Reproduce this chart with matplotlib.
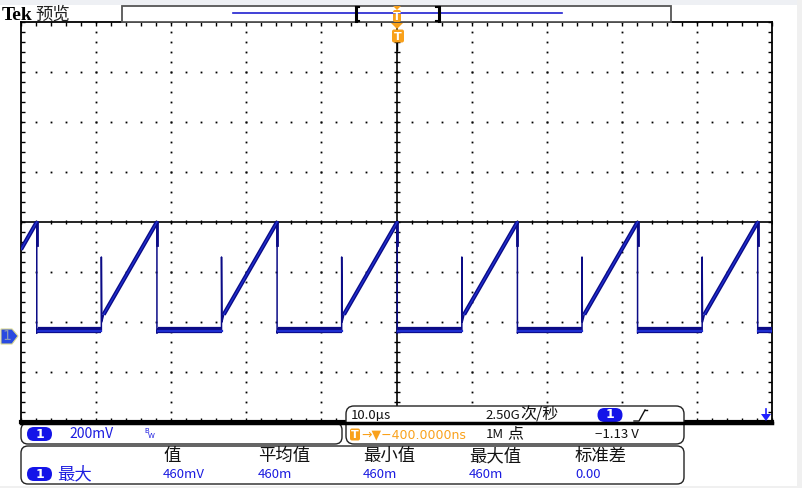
import numpy as np
import matplotlib
matplotlib.use("Agg")
import matplotlib.pyplot as plt
from matplotlib.patches import FancyBboxPatch, Rectangle, Polygon

plt.rcParams['font.family'] = ['Noto Sans CJK SC', 'DejaVu Sans']

# scope settings
t_range = (-50.0, 50.0)        # µs, 10.0µs/div
v_center = 0.46                 # V at screen centre, 200mV/div
v_per_div = 0.2

# waveform key points
fall_t = [-47.9, -31.9, -15.9, 0.1, 16.1, 32.1, 48.1]
rise_t = [-39.3, -23.3, -7.3, 8.7, 24.7, 40.7]
v_start = 0.35
v_peak = 0.46
v_low = 0.015
v_base = 0.03
v_spike = 0.32
v_ramp0 = 0.09
v_glitch = 0.37

# measurement panel
meas_headers = ['值', '平均值', '最小值', '最大值', '标准差']
meas_values = ['460mV', '460m', '460m', '460m', '0.00']
meas_x = [163, 258, 363, 469, 575]

BLUE_TXT = '#1c1ce0'
NAVY = '#0b0b86'
TRACE = '#1f2fd0'
ORANGE = '#f9a11b'

W, H = 802, 488
fig = plt.figure(figsize=(W / 100, H / 100), dpi=100)
fig.patch.set_facecolor('white')

# ---- graticule axes ----
gx0, gx1, gy0, gy1 = 21, 772, 22, 422
ax = fig.add_axes([gx0 / W, (H - gy1) / H, (gx1 - gx0) / W, (gy1 - gy0) / H])
ax.set_xlim(*t_range)
vlo = v_center - 4 * v_per_div
vhi = v_center + 4 * v_per_div
ax.set_ylim(vlo, vhi)
ax.set_facecolor('white')

xminor = np.arange(-50, 50.01, 2)
yminor = np.arange(vlo, vhi + 1e-6, v_per_div / 5)
ax.set_xticks(xminor)
ax.set_yticks(yminor)
ax.tick_params(direction='in', length=3, width=1, top=True, right=True,
               labelbottom=False, labelleft=False, color='black')
for s in ['top', 'left', 'right']:
    ax.spines[s].set_linewidth(1.3)
ax.spines['bottom'].set_linewidth(3)

# dotted grid
for xv in np.arange(-40, 41, 10):
    if xv == 0:
        continue
    ax.plot(np.full_like(yminor, xv), yminor, 's', ms=1.3, mew=0, color='black')
for k in range(-3, 4):
    if k == 0:
        continue
    yv = v_center + k * v_per_div
    ax.plot(xminor, np.full_like(xminor, yv), 's', ms=1.3, mew=0, color='black')

# centre cross with ticks
ax.axhline(v_center, color='black', lw=1.2)
ax.axvline(0, color='black', lw=1.2)
ax.plot(xminor, np.full_like(xminor, v_center), '|', ms=3.5, mew=1, color='black')
ax.plot(np.zeros_like(yminor), yminor, '_', ms=4.5, mew=1, color='black')

# ---- trace ----
ramps = [((-50.0, v_start), (fall_t[0], v_peak))]
for r, f in zip(rise_t, fall_t[1:]):
    ramps.append(((r + 0.3, v_ramp0), (f, v_peak)))
bases = []
for i, f in enumerate(fall_t):
    end = rise_t[i] if i < len(rise_t) else 50.0
    bases.append(((f + 0.1, v_base), (end, v_base)))

for (a, b) in ramps:
    ax.plot([a[0], b[0]], [a[1], b[1]], color=NAVY, lw=3.0, solid_capstyle='butt', zorder=5)
    ax.plot([a[0], b[0]], [a[1], b[1]], color=TRACE, lw=1.0, zorder=6)
for (a, b) in bases:
    ax.plot([a[0], b[0]], [a[1], b[1]], color=NAVY, lw=4.5, solid_capstyle='butt', zorder=5)
    ax.plot([a[0], b[0]], [a[1] - 0.004, b[1] - 0.004], color=TRACE, lw=1.6, zorder=6)
for f in fall_t:
    ax.plot([f, f, f + 0.1], [v_peak, v_low, v_base], color=NAVY, lw=1.1, zorder=5)
    ax.plot([f, f], [v_peak, v_glitch], color=NAVY, lw=2.0, zorder=5)
for r in rise_t:
    ax.plot([r, r, r + 0.05, r + 0.3], [v_base, v_spike, v_ramp0 - 0.03, v_ramp0],
            color=NAVY, lw=1.1, zorder=5)

# ---- overlay for screen furniture ----
ov = fig.add_axes([0, 0, 1, 1], zorder=10)
ov.set_xlim(0, W)
ov.set_ylim(H, 0)
ov.axis('off')
ov.patch.set_alpha(0)

# grey margins
ov.add_patch(Rectangle((0, 0), W, 5, color='#eef0f4', lw=0))
ov.add_patch(Rectangle((797, 0), 5, H, color='#f0f0f0', lw=0))
ov.add_patch(Rectangle((0, 486), W, 2, color='#f0f0f0', lw=0))


def box(x0, y0, x1, y1, r=7, lw=1.0, ec='#222222', fc='white'):
    ov.add_patch(FancyBboxPatch((x0, y0), x1 - x0, y1 - y0,
                                boxstyle=f'round,pad=0,rounding_size={r}',
                                lw=lw, ec=ec, fc=fc))


def pill(cx, cy, w=25, h=14):
    ov.add_patch(FancyBboxPatch((cx - w / 2, cy - h / 2), w, h,
                                boxstyle=f'round,pad=0,rounding_size={h / 2}',
                                lw=0, fc='#1414e8'))
    ov.text(cx, cy, '1', color='white', fontsize=9, fontweight='bold',
            ha='center', va='center', family='DejaVu Sans')


def tbox(cx, cy, w=11, h=13):
    ov.add_patch(FancyBboxPatch((cx - w / 2, cy - h / 2), w, h,
                                boxstyle='round,pad=0,rounding_size=2',
                                lw=0, fc=ORANGE))
    ov.text(cx, cy + 0.5, 'T', color='white', fontsize=8, fontweight='bold',
            ha='center', va='center', family='DejaVu Sans')


# title
ov.text(2, 15, 'Tek', fontsize=14, fontweight='bold', family='Liberation Serif',
        va='center', ha='left')
ov.text(35, 15, '预览', fontsize=12.5, va='center', ha='left', color='#222222')

# record bar
ov.add_patch(Rectangle((122, 6), 549, 16, fc='white', ec='#555555', lw=1.3))
ov.plot([233, 562], [13, 13], color='#2020d0', lw=1.2)
for bx in (356, 439):
    ov.plot([bx, bx], [7, 21], color='black', lw=2.2)
ov.plot([356, 359], [7, 7], color='black', lw=1.5)
ov.plot([356, 359], [21, 21], color='black', lw=1.5)
ov.plot([436, 439], [7, 7], color='black', lw=1.5)
ov.plot([436, 439], [21, 21], color='black', lw=1.5)
ov.add_patch(Polygon([[393, 6], [401, 6], [397, 10]], closed=True, fc=ORANGE, lw=0))
tbox(397, 16, w=8, h=12)
ov.add_patch(Polygon([[391, 23], [403, 23], [397, 29]], closed=True, fc=ORANGE, lw=0))
tbox(398, 36, w=12, h=13)
ov.plot([397, 397], [43, 50], color='black', lw=1)

# channel 1 ground marker
ov.add_patch(Polygon([[1, 329], [12, 329], [18, 336], [12, 344], [1, 344]], closed=True,
                     fc='#2a4ae0', ec='#d8d890', lw=0.8))
ov.text(7, 336.5, '1', color='#8a9ab8', fontsize=10, ha='center', va='center',
        family='DejaVu Sans')

# trigger level arrow (off screen)
ov.add_patch(Polygon([[761, 414], [771, 414], [766, 421]], closed=True, fc='#2020ff', lw=0))
ov.plot([766, 766], [409, 415], color='#2020ff', lw=1.2)

# vertical scale box
box(21, 423, 342, 444, r=7)
ov.plot([21, 772], [422.5, 422.5], color='black', lw=2.5)
pill(39.5, 434)
ov.text(69, 434.5, '200mV', color=BLUE_TXT, fontsize=10, va='center', ha='left')
ov.text(144, 431, 'B', color=BLUE_TXT, fontsize=5, va='center', ha='left', family='DejaVu Sans')
ov.text(147.5, 436, 'W', color=BLUE_TXT, fontsize=5, va='center', ha='left', family='DejaVu Sans')

# timebase / trigger box
box(346, 406, 684, 444, r=8)
ov.text(351, 415.5, '10.0µs', fontsize=9.5, va='center', ha='left', color='#111111')
ov.text(485, 415.5, '2.50G', fontsize=9.5, va='center', ha='left', color='#111111')
ov.text(520, 415, '次/秒', fontsize=11.5, va='center', ha='left', color='#111111')
pill(610, 415)
ov.plot([634, 639, 645], [421, 421, 410], color='#111111', lw=1)
ov.plot([645, 647], [410, 410], color='#111111', lw=1)
tbox(355, 434.5, w=10, h=12)
ov.text(361, 434.5, '→▼−400.0000ns', color=ORANGE, fontsize=9, va='center', ha='left',
        family=['DejaVu Sans'])
ov.text(486, 434.5, '1M', fontsize=9.5, va='center', ha='left', color='#111111')
ov.text(507, 434, '点', fontsize=11.5, va='center', ha='left', color='#111111')
ov.text(595, 434.5, '−1.13 V', fontsize=9.5, va='center', ha='left', color='#111111')

# measurement box
box(21, 446, 684, 484, r=7)
pill(39.5, 474)
ov.text(57, 474, '最大', color=BLUE_TXT, fontsize=12.5, va='center', ha='left')
for x, hd, val in zip(meas_x, meas_headers, meas_values):
    ov.text(x, 456, hd, fontsize=12.5, va='center', ha='left', color='#111111')
    ov.text(x, 475, val, fontsize=9.5, va='center', ha='left', color=BLUE_TXT)

fig.savefig('out.png', dpi=100, facecolor=fig.get_facecolor())
